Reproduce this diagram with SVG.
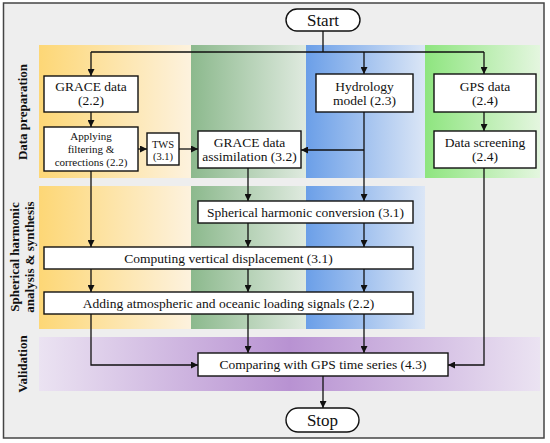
<svg xmlns="http://www.w3.org/2000/svg" width="550" height="443" viewBox="0 0 550 443">
<defs>
<linearGradient id="gY" x1="0" y1="0" x2="1" y2="0"><stop offset="0" stop-color="#fdd776"/><stop offset="1" stop-color="#fdf2de"/></linearGradient>
<linearGradient id="gG" x1="0" y1="0" x2="1" y2="0"><stop offset="0" stop-color="#8cb98d"/><stop offset="1" stop-color="#dfeadf"/></linearGradient>
<linearGradient id="gB" x1="0" y1="0" x2="1" y2="0"><stop offset="0" stop-color="#6b9fe8"/><stop offset="1" stop-color="#dbe6f6"/></linearGradient>
<linearGradient id="gL" x1="0" y1="0" x2="1" y2="0"><stop offset="0" stop-color="#8ee57f"/><stop offset="1" stop-color="#e4f6df"/></linearGradient>
<linearGradient id="gP" x1="0" y1="0" x2="1" y2="0"><stop offset="0" stop-color="#ebe3f2"/><stop offset="0.5" stop-color="#b892d2"/><stop offset="1" stop-color="#ebe3f2"/></linearGradient>
<marker id="ah" viewBox="0 0 10 10" refX="10" refY="5" markerWidth="7" markerHeight="7" markerUnits="userSpaceOnUse" orient="auto"><path d="M0,0 L10,5 L0,10 z" fill="#111"/></marker>
<style>
.box{fill:#fff;stroke:#111;stroke-width:1.4}
.t{font-family:"Liberation Serif","Times New Roman",serif;fill:#111;text-anchor:middle}
.lab{font-family:"Liberation Serif","Times New Roman",serif;font-weight:bold;fill:#111;text-anchor:middle}
.c{fill:none;stroke:#111;stroke-width:1.3}
.ca{fill:none;stroke:#111;stroke-width:1.3;marker-end:url(#ah)}
</style>
</defs>
<rect x="3.5" y="3" width="540.5" height="435" fill="#eeeeee" stroke="#444" stroke-width="1.5"/>
<g id="bands">
<rect x="39" y="45" width="152" height="133" fill="url(#gY)"/>
<rect x="191" y="45" width="115" height="133" fill="url(#gG)"/>
<rect x="306" y="45" width="119" height="133" fill="url(#gB)"/>
<rect x="425" y="45" width="115" height="133" fill="url(#gL)"/>
<rect x="39" y="186" width="152" height="143" fill="url(#gY)"/>
<rect x="191" y="186" width="115" height="143" fill="url(#gG)"/>
<rect x="306" y="186" width="119" height="143" fill="url(#gB)"/>
<rect x="39" y="337" width="501" height="54" fill="url(#gP)"/>
</g>
<g id="labels">
<text class="lab" font-size="13" transform="translate(27,112) rotate(-90)">Data preparation</text>
<text class="lab" font-size="13" transform="translate(18.5,257) rotate(-90)">Spherical harmonic</text>
<text class="lab" font-size="13" transform="translate(34,257) rotate(-90)">analysis &amp; synthesis</text>
<text class="lab" font-size="13" transform="translate(27,364) rotate(-90)">Validation</text>
</g>
<g id="connectors">
<path class="c" d="M323,31 V52 M91,52 H484"/>
<path class="ca" d="M91,52 V76"/>
<path class="ca" d="M364,52 V74"/>
<path class="ca" d="M484,52 V74"/>
<path class="ca" d="M91,112 V127"/>
<path class="ca" d="M138,149 H147"/>
<path class="ca" d="M179,149 H198"/>
<path class="ca" d="M364,112 V201"/>
<path class="ca" d="M364,150 H301"/>
<path class="ca" d="M248,168 V201"/>
<path class="ca" d="M484,112 V131"/>
<path class="ca" d="M91,171 V247"/>
<path class="ca" d="M248,223 V247"/>
<path class="ca" d="M364,223 V247"/>
<path class="ca" d="M91,269 V292"/>
<path class="ca" d="M248,269 V292"/>
<path class="ca" d="M364,269 V292"/>
<path class="ca" d="M91,314 V365 H198"/>
<path class="ca" d="M248,314 V353"/>
<path class="ca" d="M364,314 V353"/>
<path class="ca" d="M484,168 V365 H448"/>
<path class="ca" d="M323,376 V408"/>
</g>
<g id="start"><rect x="286" y="9" width="74" height="22" rx="11" class="box"/><text class="t" x="323" y="26" font-size="17">Start</text></g>
<g id="grace"><rect x="44" y="76" width="94" height="36" class="box"/><text class="t" x="91" y="91" font-size="13.5">GRACE data</text><text class="t" x="91" y="105" font-size="13.5">(2.2)</text></g>
<g id="hydro"><rect x="316" y="74" width="97" height="38" class="box"/><text class="t" x="364.5" y="90.5" font-size="13.5">Hydrology</text><text class="t" x="364.5" y="104.5" font-size="13.5">model (2.3)</text></g>
<g id="gps"><rect x="434" y="74" width="102" height="38" class="box"/><text class="t" x="485" y="90.5" font-size="13.5">GPS data</text><text class="t" x="485" y="104.5" font-size="13.5">(2.4)</text></g>
<g id="filter"><rect x="44" y="127" width="94" height="44" class="box"/><text class="t" x="91" y="140" font-size="11">Applying</text><text class="t" x="91" y="153" font-size="11">filtering &amp;</text><text class="t" x="91" y="166" font-size="11">corrections (2.2)</text></g>
<g id="tws"><rect x="147" y="133" width="32" height="32" class="box"/><text class="t" x="163" y="147.5" font-size="10.5">TWS</text><text class="t" x="163" y="159.5" font-size="10.5">(3.1)</text></g>
<g id="assim"><rect x="198" y="131" width="103" height="37" class="box"/><text class="t" x="249.5" y="146.5" font-size="13.5">GRACE data</text><text class="t" x="249.5" y="160.5" font-size="13.5">assimilation (3.2)</text></g>
<g id="screen"><rect x="434" y="131" width="102" height="37" class="box"/><text class="t" x="485" y="146.5" font-size="13.5">Data screening</text><text class="t" x="485" y="160.5" font-size="13.5">(2.4)</text></g>
<g id="sph"><rect x="198" y="201" width="215" height="22" class="box"/><text class="t" x="305.5" y="216.5" font-size="13.5">Spherical harmonic conversion (3.1)</text></g>
<g id="comp"><rect x="44" y="247" width="369" height="22" class="box"/><text class="t" x="228.5" y="262.5" font-size="13.5">Computing vertical displacement (3.1)</text></g>
<g id="add"><rect x="44" y="292" width="369" height="22" class="box"/><text class="t" x="228.5" y="307.5" font-size="13.5">Adding atmospheric and oceanic loading signals (2.2)</text></g>
<g id="cmpgps"><rect x="198" y="353" width="250" height="23" class="box"/><text class="t" x="323" y="369" font-size="13.5">Comparing with GPS time series (4.3)</text></g>
<g id="stop"><rect x="286" y="408" width="73" height="24" rx="12" class="box"/><text class="t" x="322.5" y="426" font-size="17">Stop</text></g>
</svg>
